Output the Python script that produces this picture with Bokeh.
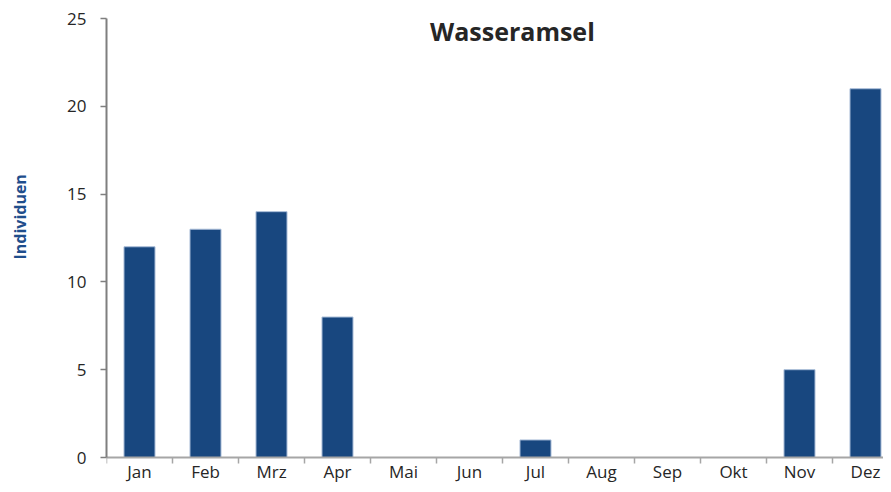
import math
from bokeh.plotting import figure
from bokeh.layouts import row
from bokeh.models import Range1d, FixedTicker, Label, ColumnDataSource
from bokeh.embed import file_html
from bokeh.resources import INLINE

months = ["Jan", "Feb", "Mrz", "Apr", "Mai", "Jun", "Jul", "Aug", "Sep", "Okt", "Nov", "Dez"]
counts = [12, 13, 14, 8, 0, 0, 1, 0, 0, 0, 5, 21]
y_ticks = [0, 5, 10, 15, 20, 25]
title_text = "Wasseramsel"
y_label = "Individuen"

xs = [i + 0.5 for i in range(len(months))]
src = ColumnDataSource(dict(x=xs, top=counts, month=months))

W, H = 883, 484
LEFT_W = 40
# frame: left edge at 106 px, top 18 px, y=0 at 457 px, figure bottom at 484 px
px_per_unit = (457 - 18) / 25
y_start = -(H - 457) / px_per_unit
font = "Open Sans"

# narrow strip carrying the rotated y-axis title
p0 = figure(width=LEFT_W, height=H, output_backend="svg", toolbar_location=None,
            x_range=Range1d(0, LEFT_W), y_range=Range1d(0, H),
            x_axis_location=None, y_axis_location=None, min_border=0)
p0.outline_line_color = None
p0.grid.grid_line_color = None
p0.add_layout(Label(x=19, y=H - 206, text=y_label, angle=math.pi / 2, text_font=font,
                    text_font_size="16px", text_font_style="bold", text_color="#1F4E8C",
                    text_align="center", text_baseline="middle"))

p = figure(width=W - LEFT_W, height=H, output_backend="svg", toolbar_location=None,
           x_range=Range1d(0, (W - 106) / 66), y_range=Range1d(y_start, 25),
           min_border_left=106 - LEFT_W, min_border_right=0, min_border_top=18, min_border_bottom=0)
p.outline_line_color = None
p.xgrid.grid_line_color = None
p.ygrid.grid_line_color = None
p.background_fill_color = "white"

p.vbar(x="x", top="top", width=0.47, bottom=0, source=src,
       fill_color="#18477F", line_color="#A9BDD8", line_width=1)

# x axis
xa = p.xaxis[0]
xa.fixed_location = 0
xa.ticker = FixedTicker(ticks=xs, minor_ticks=list(range(len(months) + 1)))
xa.major_label_overrides = {x: m for x, m in zip(xs, months)}
xa.major_tick_out = 0
xa.major_tick_in = 0
xa.minor_tick_out = 6
xa.minor_tick_in = 0
xa.minor_tick_line_color = "#A6A6A6"
xa.minor_tick_line_width = 1.5
xa.axis_line_color = "#A6A6A6"
xa.axis_line_width = 2
xa.major_label_text_font = font
xa.major_label_text_font_size = "17px"
xa.major_label_text_color = "#262626"
xa.major_label_standoff = -4

# y axis
ya = p.yaxis[0]
ya.bounds = (0, 25)
ya.ticker = FixedTicker(ticks=y_ticks, minor_ticks=[])
ya.major_tick_out = 6
ya.major_tick_in = 0
ya.major_tick_line_color = "#7F7F7F"
ya.major_tick_line_width = 1.5
ya.axis_line_color = "#7F7F7F"
ya.axis_line_width = 2
ya.major_label_text_font = font
ya.major_label_text_font_size = "17px"
ya.major_label_text_color = "#262626"
ya.major_label_standoff = 14

p.add_layout(Label(x=6.15, y=24.3, text=title_text, text_font=font, text_font_size="25px",
                   text_font_style="bold", text_color="#262626",
                   text_align="center", text_baseline="middle"))

layout = row(p0, p, spacing=0)
open("out.html", "w").write(file_html(layout, INLINE))
